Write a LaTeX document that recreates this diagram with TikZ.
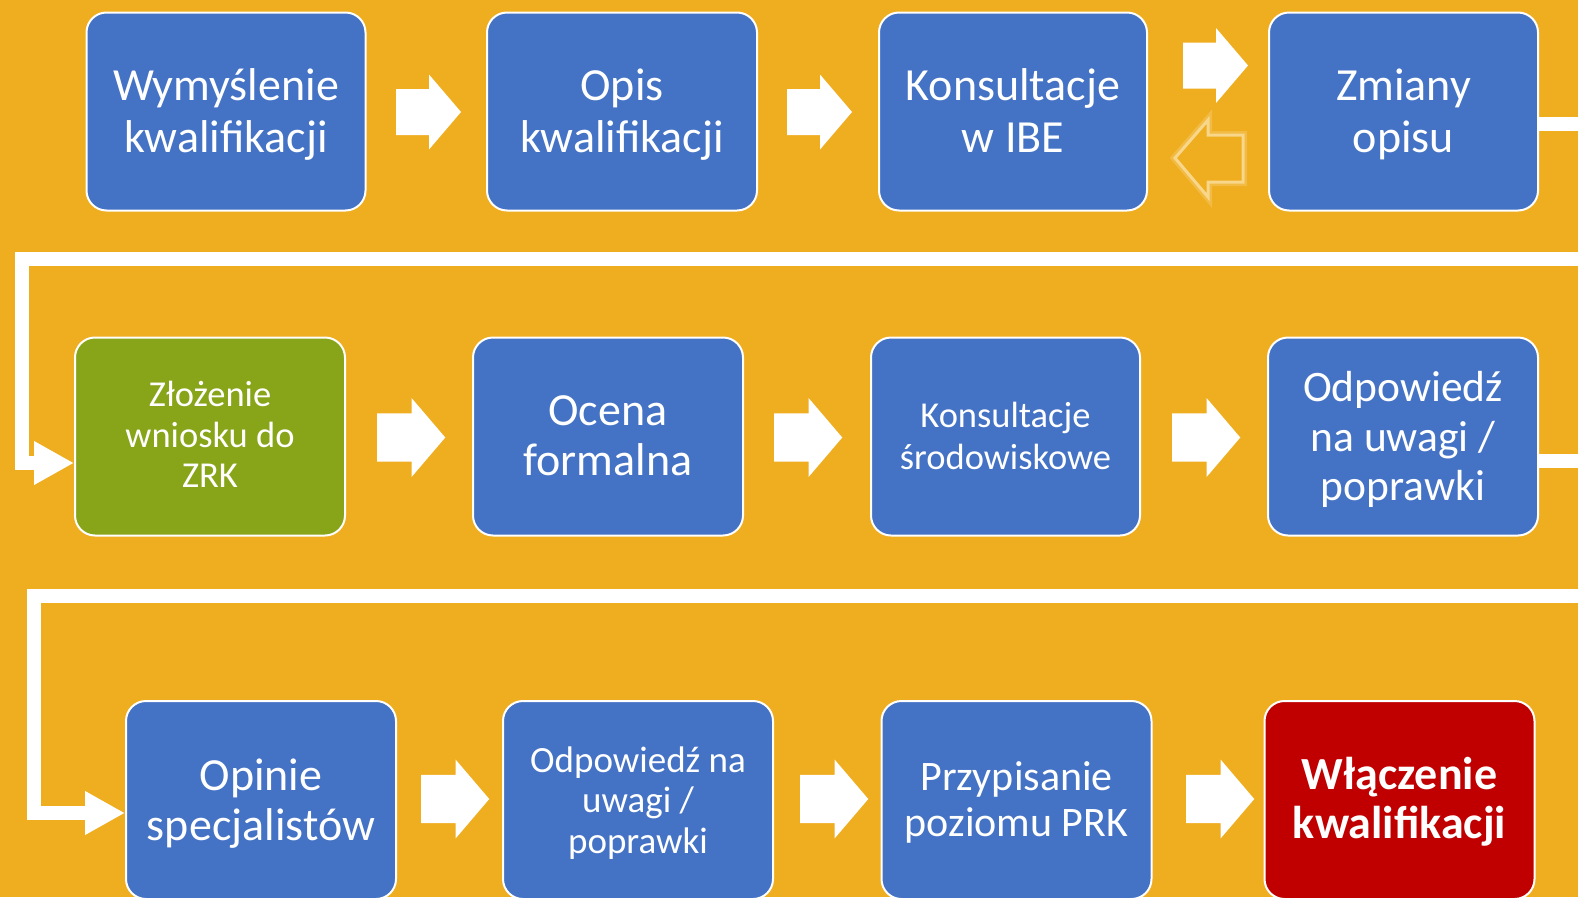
\documentclass[tikz,border=0pt]{standalone}
\usepackage{fontspec}
\setmainfont{Carlito}
\usetikzlibrary{arrows.meta}
\definecolor{bg}{HTML}{EFAD20}
\definecolor{boxblue}{HTML}{4472C4}
\definecolor{boxgreen}{HTML}{88A51A}
\definecolor{boxred}{HTML}{C00000}
\definecolor{glow}{HTML}{F8D68A}
\newcommand\fsz[2]{\fontsize{#1}{#2}\selectfont}
\begin{document}
\begin{tikzpicture}[x=1pt,y=-1pt,
  stepbox/.style={draw=white,line width=2pt,rounded corners=20pt,fill=boxblue,
    inner sep=0pt,minimum height=198pt,minimum width=270pt},
  steptext/.style={text=white,align=center,inner sep=0pt,
    execute at begin node=\strut, execute at end node=\strut},
  conn/.style={draw=white,line width=14pt,line join=miter,-{Triangle[length=40pt,width=41pt]}},
  blockarrow/.pic={\fill[white] (0,-23)--(33,-23)--(33,-37.5)--(65,0)--(33,37.5)--(33,23)--(0,23)--cycle;},
  backarrow/.style={line join=miter},
]
\useasboundingbox (0,0) rectangle (1578,897);
\fill[bg] (0,0) rectangle (1578,897);
\clip (0,0) rectangle (1578,897);

% row 1
\node[stepbox,minimum width=279pt] (b1) at (226,111.5) {};
\node[stepbox] (b2) at (622,111.5) {};
\node[stepbox,minimum width=268pt] (b3) at (1013,111.5) {};
\node[stepbox,minimum width=269pt] (b4) at (1403.5,111.5) {};
\node[steptext,font=\fsz{46}{52}] (t1) at ([yshift=-7pt]b1.center) {Wymyślenie\\kwalifikacji};
\node[steptext,font=\fsz{46}{52}] (t2) at ([yshift=-7pt]b2.center) {Opis\\kwalifikacji};
\node[steptext,font=\fsz{46}{52}] (t3) at ([yshift=-7pt]b3.center) {Konsultacje\\w IBE};
\node[steptext,font=\fsz{46}{52}] (t4) at ([yshift=-7pt]b4.center) {Zmiany\\opisu};

% row 2
\node[stepbox,fill=boxgreen] (b5) at (210,436.5) {};
\node[stepbox] (b6) at (608,436.5) {};
\node[stepbox,minimum width=269pt] (b7) at (1005.5,436.5) {};
\node[stepbox] (b8) at (1403,436.5) {};
\node[steptext,font=\fsz{36.5}{40.5}] (t5) at ([yshift=-4pt]b5.center) {Złożenie\\wniosku do\\ZRK};
\node[steptext,font=\fsz{46}{50}] (t6) at ([yshift=-7pt]b6.center) {Ocena\\formalna};
\node[steptext,font=\fsz{36.5}{42}] (t7) at ([yshift=-6pt]b7.center) {Konsultacje\\środowiskowe};
\node[steptext,font=\fsz{43.5}{49.5}] (t8) at ([yshift=-7pt]b8.center) {Odpowiedź\\na uwagi /\\poprawki};

% row 3
\node[stepbox] (b9) at (261,800) {};
\node[stepbox] (b10) at (638,800) {};
\node[stepbox] (b11) at (1016.5,800) {};
\node[stepbox,fill=boxred] (b12) at (1399.5,800) {};
\node[steptext,font=\fsz{46}{50.5}] (t9) at ([yshift=-7pt]b9.center) {Opinie\\specjalistów};
\node[steptext,font=\fsz{37}{40.5}] (t10) at ([yshift=-6pt]b10.center) {Odpowiedź na\\uwagi /\\poprawki};
\node[steptext,font=\fsz{42}{46.5}] (t11) at ([yshift=-6pt]b11.center) {Przypisanie\\poziomu PRK};
\node[steptext,font=\fsz{46}{49}\bfseries] (t12) at ([yshift=-5pt]b12.center) {Włączenie\\kwalifikacji};

% block arrows
\pic at (396,112) {blockarrow};
\pic at (787,112) {blockarrow};
\pic at (1183,65.5) {blockarrow};
\pic[scale=1.05] at (377,437.5) {blockarrow};
\pic[scale=1.05] at (774,437.5) {blockarrow};
\pic[scale=1.05] at (1172,437.5) {blockarrow};
\pic[scale=1.05] at (421,799) {blockarrow};
\pic[scale=1.05] at (800,799) {blockarrow};
\pic[scale=1.05] at (1186,799) {blockarrow};

% return arrow (outlined, glowing)
\draw[backarrow,glow,opacity=0.35,line width=8pt] (1175,158)--(1208,120)--(1208,135)--(1243,135)--(1243,182)--(1208,182)--(1208,197)--cycle;
\draw[backarrow,glow,line width=3pt,fill=bg] (1175,158)--(1208,120)--(1208,135)--(1243,135)--(1243,182)--(1208,182)--(1208,197)--cycle;

% elbow connectors between rows
\coordinate (r1) at (1600,124);
\coordinate (r1b) at (1600,258.5);
\coordinate (l1) at (21.5,258.5);
\draw[conn] ([yshift=-12.5pt]b4.east) -- (r1) -- (r1b) -- (l1) |- ([yshift=-26.5pt]b5.west);

\coordinate (r2) at (1600,460.5);
\coordinate (r2b) at (1600,595.5);
\coordinate (l2) at (33.5,595.5);
\draw[conn] ([yshift=-24pt]b8.east) -- (r2) -- (r2b) -- (l2) |- ([yshift=-13pt]b9.west);
\end{tikzpicture}
\end{document}
